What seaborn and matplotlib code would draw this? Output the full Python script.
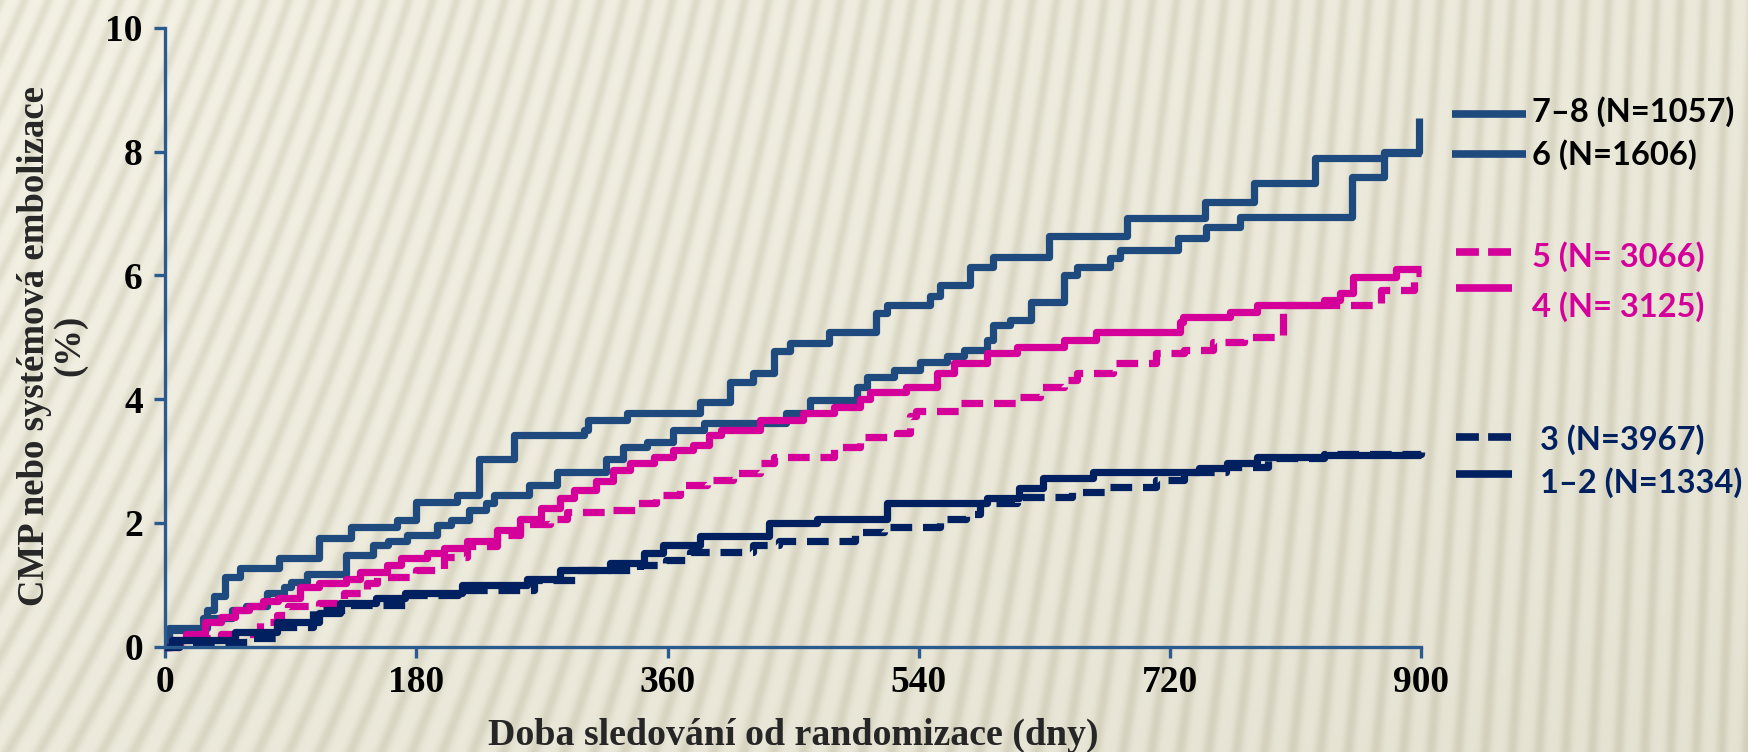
import numpy as np
import matplotlib
matplotlib.use("Agg")
import matplotlib.pyplot as plt
from matplotlib.lines import Line2D
import seaborn as sns

# ---- Kaplan-Meier style cumulative event curves (step change points) ----
days_78 = [0, 3, 30, 35, 43, 54, 82, 110, 133, 166, 180, 209, 225, 250, 300, 303, 331,
           383, 405, 421, 436, 448, 476, 509, 517, 548, 555, 577, 593, 633, 689, 745,
           780, 824, 873, 898]
pct_78 = [0, 0.30, 0.59, 0.81, 1.13, 1.27, 1.43, 1.75, 1.94, 2.05, 2.34, 2.45, 3.04, 3.42,
          3.50, 3.66, 3.77, 3.96, 4.28, 4.42, 4.77, 4.90, 5.09, 5.39, 5.52, 5.66, 5.84,
          6.14, 6.30, 6.63, 6.92, 7.19, 7.49, 7.89, 8.00, 8.54]

days_6 = [0, 3, 27, 48, 58, 73, 85, 90, 102, 130, 149, 160, 173, 195, 205, 218, 230, 236,
          261, 281, 316, 328, 345, 364, 386, 445, 462, 496, 503, 522, 541, 560, 572, 589,
          593, 605, 620, 644, 653, 677, 684, 726, 746, 770, 850, 873, 900]
pct_6 = [0, 0.27, 0.46, 0.59, 0.65, 0.86, 0.97, 1.05, 1.18, 1.48, 1.64, 1.70, 1.80, 1.97,
         2.05, 2.21, 2.32, 2.45, 2.61, 2.83, 3.04, 3.23, 3.31, 3.50, 3.61, 3.77, 3.99,
         4.20, 4.36, 4.47, 4.60, 4.69, 4.79, 4.96, 5.20, 5.28, 5.57, 6.01, 6.14, 6.28,
         6.41, 6.60, 6.79, 6.95, 7.59, 7.97, 7.97]

days_5 = [0, 10, 27, 40, 68, 80, 88, 110, 128, 145, 152, 180, 200, 216, 238, 254, 276, 288,
          321, 338, 352, 369, 388, 407, 426, 436, 479, 498, 524, 534, 538, 569, 612, 627,
          644, 653, 679, 710, 730, 751, 773, 801, 871, 895, 900]
pct_5 = [0, 0.05, 0.14, 0.21, 0.40, 0.51, 0.65, 0.70, 0.86, 1.02, 1.13, 1.24, 1.45, 1.62,
         1.80, 1.98, 2.07, 2.18, 2.21, 2.32, 2.45, 2.61, 2.69, 2.80, 2.96, 3.07, 3.23,
         3.39, 3.45, 3.72, 3.80, 3.93, 4.04, 4.20, 4.31, 4.42, 4.58, 4.74, 4.79, 4.93,
         5.01, 5.52, 5.76, 6.04, 6.04]

days_4 = [0, 5, 15, 29, 40, 50, 60, 70, 81, 97, 110, 130, 140, 159, 169, 188, 200, 216, 238,
          254, 269, 283, 293, 309, 321, 333, 350, 364, 378, 390, 398, 426, 457, 479, 498,
          505, 531, 553, 565, 589, 610, 644, 667, 727, 729, 763, 782, 830, 842, 851, 882, 900]
pct_4 = [0, 0.10, 0.20, 0.40, 0.48, 0.59, 0.65, 0.73, 0.78, 0.97, 1.02, 1.10, 1.21, 1.32,
         1.43, 1.51, 1.59, 1.70, 1.88, 2.07, 2.24, 2.40, 2.53, 2.67, 2.85, 2.96, 3.07,
         3.18, 3.26, 3.42, 3.50, 3.66, 3.77, 3.88, 4.01, 4.12, 4.20, 4.42, 4.58, 4.74,
         4.85, 4.96, 5.09, 5.25, 5.33, 5.41, 5.52, 5.60, 5.71, 5.98, 6.11, 6.11]

days_3 = [0, 10, 60, 80, 106, 130, 175, 210, 264, 295, 340, 359, 376, 421, 440, 494, 515,
          555, 574, 584, 610, 650, 675, 710, 730, 760, 790, 830, 900]
pct_3 = [0, 0.08, 0.14, 0.32, 0.59, 0.67, 0.83, 0.91, 1.08, 1.24, 1.32, 1.40, 1.53, 1.64,
         1.70, 1.86, 1.94, 2.07, 2.15, 2.32, 2.42, 2.50, 2.58, 2.69, 2.83, 2.90, 3.05,
         3.12, 3.15]

days_12 = [0, 5, 50, 80, 110, 125, 151, 172, 213, 259, 283, 319, 343, 357, 383, 433, 467,
           517, 589, 612, 629, 665, 741, 761, 782, 830, 900]
pct_12 = [0, 0.10, 0.24, 0.39, 0.55, 0.70, 0.78, 0.86, 1.00, 1.10, 1.24, 1.35, 1.51, 1.64,
          1.78, 1.99, 2.07, 2.32, 2.40, 2.56, 2.72, 2.83, 2.88, 2.96, 3.07, 3.10, 3.10]

group_labels = ["7–8 (N=1057)", "6 (N=1606)", "5 (N= 3066)", "4 (N= 3125)",
                "3 (N=3967)", "1–2 (N=1334)"]
x_ticks = [0, 180, 360, 540, 720, 900]
y_ticks = [0, 2, 4, 6, 8, 10]

BLUE = "#1F4A7E"
NAVY = "#00205F"
MAGENTA = "#D5009A"
AXIS_BLUE = "#2B5A8F"

W, H = 1748, 752

sns.set_style("ticks")
plt.rcParams["font.family"] = ["Liberation Serif", "DejaVu Serif"]
plt.rcParams["font.weight"] = "bold"

fig = plt.figure(figsize=(W / 100, H / 100), dpi=100)

# ---- striped beige backdrop ----
yy, xx = np.mgrid[0:H, 0:W].astype(float)
tilt = 0.40 * (1 - xx / W) ** 1.4 + 0.04
phase = (xx + yy * tilt) / 24.0
stripe = (0.5 + 0.5 * np.cos(2 * np.pi * phase)) ** 2
light = np.array([243, 241, 228]) / 255
dark = np.array([206, 203, 182]) / 255
shade = 0.5 * stripe + 0.22 * (xx / W) + 0.18 * (yy / H) ** 1.5
shade = np.clip(shade, 0, 1)
texture = light + (dark - light) * shade[..., None]
bg = fig.add_axes([0, 0, 1, 1])
bg.imshow(texture, aspect="auto", interpolation="bilinear")
bg.axis("off")

# ---- main axes ----
x0, x1, y0, y1 = 165, 1421.4, 646.6, 27.9
ax = fig.add_axes([x0 / W, 1 - y0 / H, (x1 - x0) / W, (y0 - y1) / H])
ax.patch.set_alpha(0)

DASH = (0, (3.0, 1.5))
series = [
    (days_78, pct_78, BLUE, "-"),
    (days_6, pct_6, BLUE, "-"),
    (days_5, pct_5, MAGENTA, DASH),
    (days_4, pct_4, MAGENTA, "-"),
    (days_3, pct_3, NAVY, DASH),
    (days_12, pct_12, NAVY, "-"),
]
for d, p, c, ls in series:
    sns.lineplot(x=d, y=p, ax=ax, color=c, linewidth=5.2, linestyle=ls,
                 drawstyle="steps-post", estimator=None, sort=False,
                 legend=False, clip_on=False, solid_capstyle="butt")

ax.set_xlim(0, 900)
ax.set_ylim(0, 10)
ax.set_xticks(x_ticks)
ax.set_yticks(y_ticks)
ax.set_xticklabels([str(v) for v in x_ticks])
ax.set_yticklabels([str(v) for v in y_ticks])
for side in ("top", "right"):
    ax.spines[side].set_visible(False)
for side in ("left", "bottom"):
    ax.spines[side].set_color(AXIS_BLUE)
    ax.spines[side].set_linewidth(2.4)
ax.tick_params(axis="both", direction="out", length=8, width=2.4, color=AXIS_BLUE,
               labelsize=27, labelcolor="black")
ax.tick_params(axis="x", pad=5)
ax.tick_params(axis="y", pad=8)
for lbl in ax.get_xticklabels() + ax.get_yticklabels():
    lbl.set_fontweight("bold")

ax.set_xlabel("Doba sledování od randomizace (dny)", fontsize=27.3, fontweight="bold")
ax.xaxis.label.set_va("baseline")
ax.xaxis.set_label_coords(0.5, (y0 - 745) / (y0 - y1))

ax.set_ylabel("CMP nebo systémová embolizace\n(%)", fontsize=26.5, fontweight="bold",
              linespacing=1.0)
ax.yaxis.label.set_va("center")
ax.yaxis.set_label_coords((52 - x0) / (x1 - x0), (y0 - 345.6) / (y0 - y1))

# ---- legend block on the right ----
legend_rows = [
    # label, colour, line style, line x-range, line y, text x, text y, text colour
    (group_labels[0], BLUE, "-", (1452, 1526), 114, 1532, 112, "black"),
    (group_labels[1], BLUE, "-", (1452, 1526), 154, 1532, 155, "black"),
    (group_labels[2], MAGENTA, (0, (3.0, 1.2)), (1456, 1512), 252, 1532, 257, MAGENTA),
    (group_labels[3], MAGENTA, "-", (1456, 1512), 288, 1532, 307, MAGENTA),
    (group_labels[4], NAVY, (0, (3.0, 1.2)), (1456, 1512), 437, 1540, 440, NAVY),
    (group_labels[5], NAVY, "-", (1456, 1512), 474, 1540, 483, NAVY),
]
for label, col, ls, (lx0, lx1), ly, tx, ty, tcol in legend_rows:
    fig.add_artist(Line2D([lx0 / W, lx1 / W], [1 - ly / H, 1 - ly / H],
                          transform=fig.transFigure, color=col, linewidth=5.5,
                          linestyle=ls, solid_capstyle="butt"))
    fig.text(tx / W, 1 - ty / H, label, color=tcol, fontsize=23.5, fontweight="bold",
             family=["Lato", "DejaVu Sans"], ha="left", va="center")

fig.savefig("out.png", dpi=100)
